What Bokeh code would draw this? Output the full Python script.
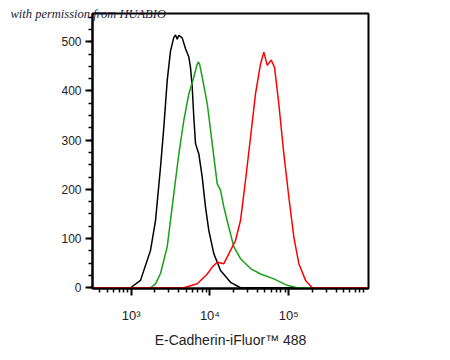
from bokeh.plotting import figure
from bokeh.models import Range1d, FixedTicker, Title
from bokeh.embed import file_html
from bokeh.resources import INLINE

# ---- data (fluorescence intensity, cell count) ----
black_x = [330, 980, 1312, 1758, 2037, 2355, 2594, 2864, 3155, 3475, 3656, 3837, 4027,
           4446, 4898, 5395, 5662, 5957, 6237, 6561, 7228, 7980, 8790, 9683, 11220,
           13650, 18280, 24490, 1.0e6]
black_y = [0, 0, 15, 76, 137, 245, 326, 421, 481, 509, 514, 505, 513,
           508, 486, 469, 448, 408, 347, 293, 272, 225, 164, 116, 69,
           35, 11, 0, 0]

green_x = [330, 1758, 2037, 2355, 2864, 3155, 3475, 4027, 4656, 5395, 6237, 6761, 7096,
           7379, 7980, 9247, 10690, 12380, 13650, 15030, 17380, 20140, 24490, 32810,
           43950, 64860, 95940, 128500, 1.0e6]
green_y = [0, 0, 8, 29, 83, 137, 191, 272, 340, 394, 428, 450, 459,
           455, 428, 374, 293, 211, 198, 164, 123, 83, 59, 39,
           28, 18, 5, 0, 0]

red_x = [330, 4656, 6902, 9247, 10690, 12380, 15030, 18280, 21130, 24490, 28310, 32810,
         37930, 43950, 48420, 53460, 60100, 66220, 75000, 86900, 100700, 116400,
         134900, 164100, 199500, 1.0e6]
red_y = [0, 0, 8, 28, 42, 52, 49, 76, 96, 137, 218, 306,
         394, 455, 479, 452, 463, 448, 374, 272, 184, 103,
         49, 15, 0, 0]

x_tick_values = [1e3, 1e4, 1e5]
x_tick_labels = ["10³", "10⁴", "10⁵"]
y_tick_values = [0, 100, 200, 300, 400, 500]

x_label = "E-Cadherin-iFluor™ 488"
watermark = "with permission from HUABIO"

p = figure(width=434, height=350, x_axis_type="log",
           x_range=Range1d(322, 1.035e6), y_range=Range1d(-1.5, 557.5),
           output_backend="svg", toolbar_location=None,
           min_border_left=92, min_border_right=66, min_border_top=13, min_border_bottom=62)
p.background_fill_color = "white"
p.border_fill_color = "white"
p.outline_line_color = "black"
p.outline_line_width = 2
p.xgrid.visible = False
p.ygrid.visible = False

p.line(black_x, black_y, line_color="black", line_width=1.5)
p.line(green_x, green_y, line_color="#18a018", line_width=1.5)
p.line(red_x, red_y, line_color="#ff0000", line_width=1.5)

minor_x = [k * 10.0 ** d for d in range(2, 7) for k in range(2, 10)]
p.xaxis.ticker = FixedTicker(ticks=x_tick_values, minor_ticks=minor_x)
p.xaxis.major_label_overrides = {v: s for v, s in zip(x_tick_values, x_tick_labels)}
p.yaxis.ticker = FixedTicker(ticks=y_tick_values, minor_ticks=list(range(0, 575, 25)))

for ax in (p.xaxis[0], p.yaxis[0]):
    ax.axis_line_width = 2
    ax.axis_line_color = "black"
    ax.major_tick_line_width = 2
    ax.minor_tick_line_width = 1.5
    ax.major_tick_in = 0
    ax.minor_tick_in = 0
    ax.major_tick_out = 7
    ax.minor_tick_out = 4
    ax.major_label_text_font = "Liberation Sans"
    ax.major_label_text_color = "#222222"

p.yaxis.major_label_text_font_size = "12px"
p.yaxis.major_label_standoff = 4
p.xaxis.major_label_text_font_size = "13px"
p.xaxis.major_label_standoff = 12
p.xaxis.axis_label = x_label
p.xaxis.axis_label_text_font = "Liberation Sans"
p.xaxis.axis_label_text_font_style = "normal"
p.xaxis.axis_label_text_font_size = "14px"
p.xaxis.axis_label_text_color = "#222222"
p.xaxis.axis_label_standoff = 6

p.add_layout(Title(text=watermark, align="left", offset=-82, standoff=-14,
                   text_font="Liberation Serif", text_font_style="italic",
                   text_font_size="12.5px", text_color="#1a1a33"), "above")

open("out.html", "w").write(file_html(p, INLINE))
